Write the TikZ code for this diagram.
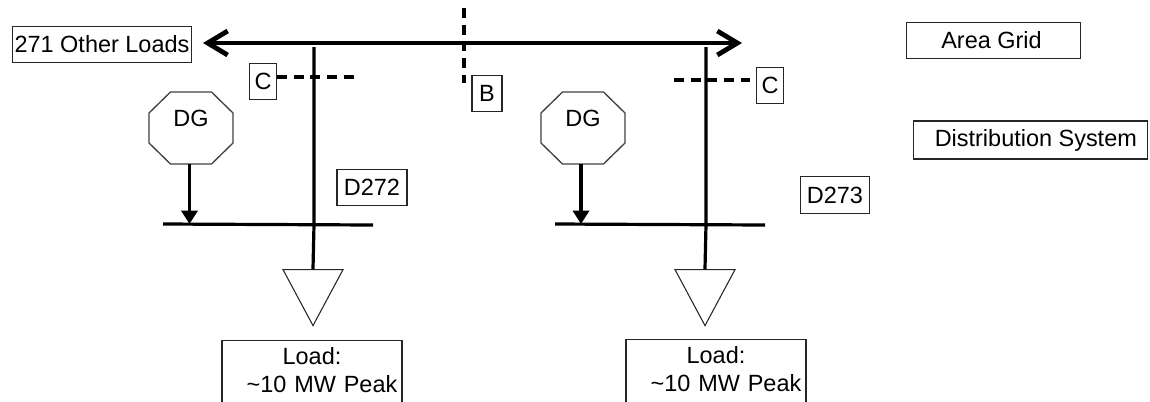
\documentclass[tikz,border=0pt]{standalone}
\usepackage{fontspec}
\setmainfont{Liberation Sans}
\usetikzlibrary{arrows.meta,shapes.geometric}
\tikzset{
    labelbox/.style={rectangle, draw=black!85, line width=0.8pt, inner sep=0pt, font=\fontsize{17.6}{21}\selectfont},
    loadbox/.style={labelbox, anchor=north, minimum width=135pt, text width=133pt, align=center, inner ysep=5pt},
    dgbox/.style={rectangle, minimum width=63pt, minimum height=54pt, inner sep=0pt, font=\fontsize{17.6}{21}\selectfont},
    octoline/.style={draw=black!75, line width=1pt},
    tieline/.style={line width=3.6pt},
    feeder/.style={line width=2.4pt},
    cutline/.style={line width=2.4pt, dash pattern=on 7.5pt off 5pt},
    loadtri/.style={isosceles triangle, isosceles triangle stretches, shape border rotate=-90, draw=black!85, line width=0.8pt, inner sep=0pt, minimum width=45pt, minimum height=42pt, anchor=apex}
}
\begin{document}
\begin{tikzpicture}[x=0.75pt, y=-0.75pt]
    \clip (0,0) rectangle (1150,401);

    % Legend and bus labels
    \node[labelbox, minimum width=134.5pt, minimum height=27pt] (other) at (102,44.5) {271 Other Loads};
    \node[labelbox, minimum width=131pt, minimum height=27.5pt] (grid) at (993.5,40.5) {Area Grid\hspace*{3pt}};
    \node[labelbox, minimum width=176pt, minimum height=28.5pt] (dist) at (1030.5,140) {\hspace*{8pt}Distribution System};

    % Area bus
    \coordinate (busw) at (203,43);
    \coordinate (buse) at (742,43);
    \draw[tieline, {Straight Barb[length=15pt,width=18pt]}-{Straight Barb[length=15pt,width=18pt]}] (busw) -- (buse);

    % Cut B
    \node[labelbox, minimum width=22.5pt, minimum height=27.5pt] (cutb) at (487,93.5) {B};
    \coordinate (bn) at (464,8);
    \coordinate (bs) at (464,83);
    \draw[cutline] (bn) -- (bs);

    % Left feeder
    \coordinate (tapl) at (314,47);
    \coordinate (jointl) at (314,224.5);
    \node[labelbox, minimum width=20pt, minimum height=27.5pt] (cl) at (263,81.5) {C};
    \coordinate (cutl) at (354,77);
    \draw[cutline] (cl.east |- cutl) -- (cutl);
    \node[labelbox, minimum width=52.5pt, minimum height=27.5pt] (dl) at (372,187.5) {D272};
    \node[dgbox] (dgl) at (191,128) {\raisebox{14pt}{DG}};
    \draw[octoline, shift={(dgl.center)}] (-20.5,-36) -- (20.5,-36) -- (42,-15) -- (42,15) -- (20.5,36) -- (-20.5,36) -- (-42,15) -- (-42,-15) -- cycle;
    \coordinate (busla) at (163,224);
    \coordinate (buslb) at (373,225);
    \coordinate (injl) at (189.5,224);
    \draw[feeder] (busla) -- (buslb);
    \draw[feeder, -{Triangle[length=10pt,width=12pt]}] (dgl.south -| injl) -- (injl);
    \node[loadtri] (tril) at (313,327) {};
    \draw[feeder] (tapl) -- (jointl) -- (tril.lower side);
    \node[loadbox] (loadl) at (312,340) {Load:\\\hspace*{15pt}\textasciitilde10 MW Peak\rule[-24pt]{0pt}{0pt}};

    % Right feeder
    \coordinate (tapr) at (706,47);
    \coordinate (jointr) at (706,224.5);
    \node[labelbox, minimum width=20pt, minimum height=27.5pt] (cr) at (770,85.5) {C};
    \coordinate (cutr) at (674,80);
    \coordinate (cutre) at (750,80);
    \draw[cutline] (cutr) -- (cutre);
    \node[labelbox, minimum width=52pt, minimum height=27.5pt] (dr) at (835,195) {D273};
    \node[dgbox] (dgr) at (583,128) {\raisebox{14pt}{DG}};
    \draw[octoline, shift={(dgr.center)}] (-20.5,-36) -- (20.5,-36) -- (42,-15) -- (42,15) -- (20.5,36) -- (-20.5,36) -- (-42,15) -- (-42,-15) -- cycle;
    \coordinate (busra) at (555,224);
    \coordinate (busrb) at (765,225);
    \coordinate (injr) at (581,224);
    \draw[feeder] (busra) -- (busrb);
    \draw[feeder, -{Triangle[length=10pt,width=12pt]}] (dgr.south -| injr) -- (injr);
    \node[loadtri] (trir) at (705,327) {};
    \draw[feeder] (tapr) -- (jointr) -- (trir.lower side);
    \node[loadbox] (loadr) at (716,339) {Load:\\\hspace*{15pt}\textasciitilde10 MW Peak\rule[-24pt]{0pt}{0pt}};
\end{tikzpicture}
\end{document}
